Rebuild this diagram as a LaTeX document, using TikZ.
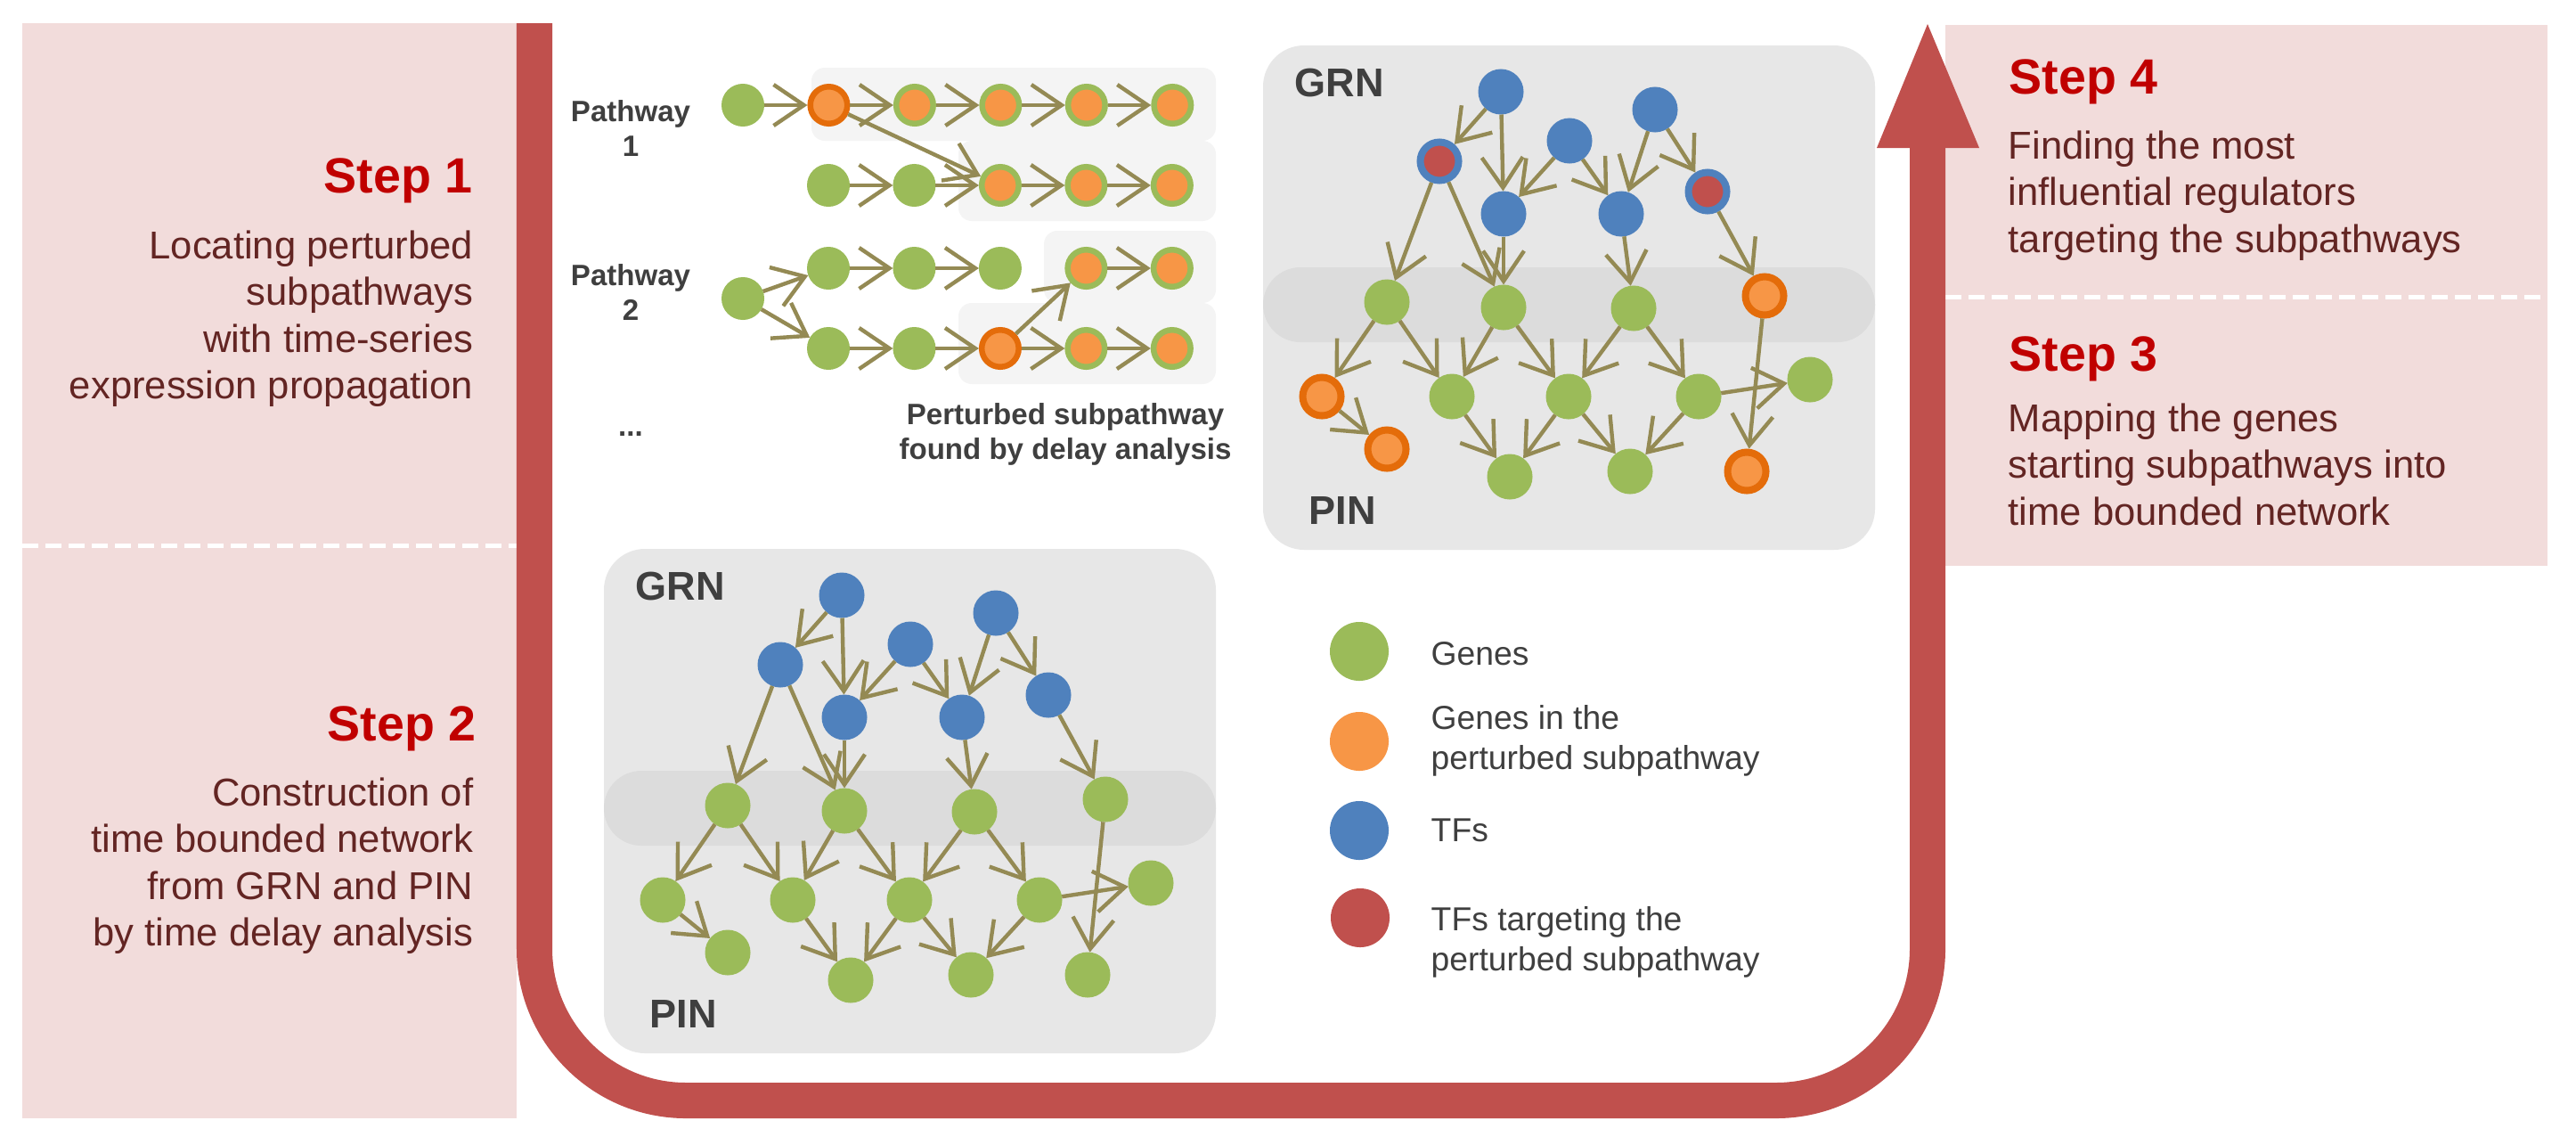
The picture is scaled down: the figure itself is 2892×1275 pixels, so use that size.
\documentclass[tikz,border=0pt]{standalone}
\usepackage{fontspec}
\setmainfont{Liberation Sans}
\usetikzlibrary{arrows.meta,positioning}

\definecolor{genegreen}{HTML}{9BBB59}
\definecolor{pertorange}{HTML}{F79646}
\definecolor{ringorange}{HTML}{E46C0A}
\definecolor{tfblue}{HTML}{4F81BD}
\definecolor{tfred}{HTML}{C0504D}
\definecolor{edgeolive}{HTML}{948A54}
\definecolor{netgray}{HTML}{E7E7E7}
\definecolor{bandgray}{HTML}{DCDCDC}
\definecolor{subgray}{HTML}{F4F4F4}
\definecolor{steppink}{HTML}{F2DCDB}
\definecolor{stepred}{HTML}{C00000}
\definecolor{steptext}{HTML}{632523}
\definecolor{darktext}{HTML}{3F3F3F}

\begin{document}
\begin{tikzpicture}[x=0.01cm,y=-0.01cm,->,>={Straight Barb[length=0.34cm,width=0.46cm]},
  every edge/.style={draw,edgeolive,line width=0.044cm},
  gene/.style={circle,fill=genegreen,inner sep=0,outer sep=0,minimum size=0.51cm},
  tf/.style={circle,fill=tfblue,inner sep=0,outer sep=0,minimum size=0.51cm},
  pgene/.style={circle,fill=pertorange,draw=ringorange,line width=0.08cm,inner sep=0,minimum size=0.43cm},
  tfhit/.style={circle,fill=tfred,draw=tfblue,line width=0.08cm,inner sep=0,minimum size=0.43cm},
  pw/.style={circle,fill=genegreen,inner sep=0,outer sep=0,minimum size=0.48cm},
  pwsub/.style={circle,fill=pertorange,draw=genegreen,line width=0.065cm,inner sep=0,minimum size=0.415cm},
  pwstart/.style={circle,fill=pertorange,draw=ringorange,line width=0.065cm,inner sep=0,minimum size=0.415cm},
  legdot/.style={circle,inner sep=0,outer sep=0,minimum size=0.66cm},
  steptitle/.style={font=\fontsize{15.8}{19}\selectfont\bfseries,text=stepred,inner sep=0},
  stepbody/.style={font=\fontsize{12.4}{14.9}\selectfont,text=steptext,inner sep=0},
  netlabel/.style={font=\fontsize{12.8}{15}\selectfont\bfseries,text=darktext,inner sep=0},
  pwlabel/.style={font=\fontsize{9.4}{11.1}\selectfont\bfseries,text=darktext,inner sep=0,align=center},
  legtext/.style={font=\fontsize{10.6}{12.6}\selectfont,text=darktext,inner sep=0,align=left},
  node distance=0.964cm]

\useasboundingbox (0,0) rectangle (2892,1275);
\fill[white] (0,0) rectangle (2892,1275);

% step panels
\fill[steppink] (25,26) rectangle (580,1255);
\fill[steppink] (2184,28) rectangle (2860,635);
\draw[-,white,line width=0.05cm,dash pattern=on 0.18cm off 0.08cm] (25,612) -- (580,612);
\draw[-,white,line width=0.05cm,dash pattern=on 0.18cm off 0.08cm] (2184,333) -- (2860,333);

\node[steptitle,anchor=base east] (step1) at (531,216) {Step 1};
\node[stepbody,anchor=north east,align=right] (step1txt) at (532,258) {Locating perturbed\\subpathways\\with time-series\\expression propagation};
\node[steptitle,anchor=base east] (step2) at (535,831) {Step 2};
\node[stepbody,anchor=north east,align=right] (step2txt) at (532,872) {Construction of\\time bounded network\\from GRN and PIN\\by time delay analysis};
\node[steptitle,anchor=base west] (step4) at (2255,105) {Step 4};
\node[stepbody,anchor=north west,align=left] (step4txt) at (2254,146) {Finding the most\\influential regulators\\targeting the subpathways};
\node[steptitle,anchor=base west] (step3) at (2255,416) {Step 3};
\node[stepbody,anchor=north west,align=left] (step3txt) at (2254,452) {Mapping the genes\\starting subpathways into\\time bounded network};

% big arrow
\draw[-,tfred,line width=0.4cm,rounded corners=1.7cm] (600,26) -- (600,1235) -- (2164,1235) -- (2164,160);
\fill[tfred] (2107,166) -- (2222,166) -- (2164,27) -- cycle;

% pathways
\fill[subgray,rounded corners=0.15cm] (911,76) rectangle (1365,158);
\fill[subgray,rounded corners=0.15cm] (1076,158) rectangle (1365,248);
\fill[subgray,rounded corners=0.15cm] (1172,259) rectangle (1365,340);
\fill[subgray,rounded corners=0.15cm] (1076,340) rectangle (1365,431);

\node[pwlabel,anchor=north] (pw1) at (708,112) {Pathway\\1};
\node[pwlabel,anchor=north] (pw2) at (708,296) {Pathway\\2};
\node[pwlabel,anchor=base] (pwdots) at (708,489) {...};
\node[pwlabel,anchor=north] (found) at (1196,452) {Perturbed subpathway\\found by delay analysis};

\node[pw] (a1) at (834,118) {};
\node[pwstart] (a2) [right of=a1] {};
\node[pwsub] (a3) [right of=a2] {};
\node[pwsub] (a4) [right of=a3] {};
\node[pwsub] (a5) [right of=a4] {};
\node[pwsub] (a6) [right of=a5] {};
\node[pw] (b1) at (930,208) {};
\node[pw] (b2) [right of=b1] {};
\node[pwsub] (b3) [right of=b2] {};
\node[pwsub] (b4) [right of=b3] {};
\node[pwsub] (b5) [right of=b4] {};
\node[pw] (s) at (834,335) {};
\node[pw] (c1) at (930,301) {};
\node[pw] (c2) [right of=c1] {};
\node[pw] (c3) [right of=c2] {};
\node[pwsub] (c4) [right of=c3] {};
\node[pwsub] (c5) [right of=c4] {};
\node[pw] (d1) at (930,391) {};
\node[pw] (d2) [right of=d1] {};
\node[pwstart] (d3) [right of=d2] {};
\node[pwsub] (d4) [right of=d3] {};
\node[pwsub] (d5) [right of=d4] {};

\path (a1) edge (a2);
\path (a2) edge (a3) edge (b3);
\path (a3) edge (a4);
\path (a4) edge (a5);
\path (a5) edge (a6);
\path (b1) edge (b2);
\path (b2) edge (b3);
\path (b3) edge (b4);
\path (b4) edge (b5);
\path (s) edge (c1) edge (d1);
\path (c1) edge (c2);
\path (c2) edge (c3);
\path (c4) edge (c5);
\path (d1) edge (d2);
\path (d2) edge (d3);
\path (d3) edge (d4) edge (c4);
\path (d4) edge (d5);

% time bounded network with targets
\fill[netgray,rounded corners=0.46cm] (1418,51) rectangle (2105,617);
\fill[bandgray,rounded corners=0.42cm] (1418,300) rectangle (2105,384);
\node[netlabel,anchor=base west] (tgrn) at (1453,108) {GRN};
\node[netlabel,anchor=base west] (tpin) at (1469,588) {PIN};

\node[tf] (t1) at (1685,103) {};
\node[tfhit] (t2) at (1616,181) {};
\node[tf] (t3) at (1762,158) {};
\node[tf] (t4) at (1858,123) {};
\node[tf] (t5) at (1688,240) {};
\node[tf] (t6) at (1820,240) {};
\node[tfhit] (t7) at (1917,215) {};
\node[gene] (g1) at (1557,339) {};
\node[gene] (g2) at (1688,345) {};
\node[gene] (g3) at (1834,346) {};
\node[pgene] (g4) at (1981,332) {};
\node[pgene] (g5) at (1484,445) {};
\node[pgene] (g6) at (1557,504) {};
\node[gene] (g7) at (1630,445) {};
\node[gene] (g8) at (1761,445) {};
\node[gene] (g9) at (1907,445) {};
\node[gene] (g10) at (2032,426) {};
\node[gene] (g11) at (1695,535) {};
\node[gene] (g12) at (1830,529) {};
\node[pgene] (g13) at (1961,529) {};

\path (t1) edge (t2) edge (t5);
\path (t3) edge (t5) edge (t6);
\path (t4) edge (t6) edge (t7);
\path (t2) edge (g1) edge (g2);
\path (t5) edge (g2);
\path (t6) edge (g3);
\path (t7) edge (g4);
\path (g1) edge (g5) edge (g7);
\path (g2) edge (g7) edge (g8);
\path (g3) edge (g8) edge (g9);
\path (g4) edge (g13);
\path (g5) edge (g6);
\path (g9) edge (g10) edge (g12);
\path (g7) edge (g11);
\path (g8) edge (g11) edge (g12);

% time bounded network
\begin{scope}[shift={(-740,565)}]
\fill[netgray,rounded corners=0.46cm] (1418,51) rectangle (2105,617);
\fill[bandgray,rounded corners=0.42cm] (1418,300) rectangle (2105,384);
\node[netlabel,anchor=base west] (bgrn) at (1453,108) {GRN};
\node[netlabel,anchor=base west] (bpin) at (1469,588) {PIN};

\node[tf] (u1) at (1685,103) {};
\node[tf] (u2) at (1616,181) {};
\node[tf] (u3) at (1762,158) {};
\node[tf] (u4) at (1858,123) {};
\node[tf] (u5) at (1688,240) {};
\node[tf] (u6) at (1820,240) {};
\node[tf] (u7) at (1917,215) {};
\node[gene] (h1) at (1557,339) {};
\node[gene] (h2) at (1688,345) {};
\node[gene] (h3) at (1834,346) {};
\node[gene] (h4) at (1981,332) {};
\node[gene] (h5) at (1484,445) {};
\node[gene] (h6) at (1557,504) {};
\node[gene] (h7) at (1630,445) {};
\node[gene] (h8) at (1761,445) {};
\node[gene] (h9) at (1907,445) {};
\node[gene] (h10) at (2032,426) {};
\node[gene] (h11) at (1695,535) {};
\node[gene] (h12) at (1830,529) {};
\node[gene] (h13) at (1961,529) {};

\path (u1) edge (u2) edge (u5);
\path (u3) edge (u5) edge (u6);
\path (u4) edge (u6) edge (u7);
\path (u2) edge (h1) edge (h2);
\path (u5) edge (h2);
\path (u6) edge (h3);
\path (u7) edge (h4);
\path (h1) edge (h5) edge (h7);
\path (h2) edge (h7) edge (h8);
\path (h3) edge (h8) edge (h9);
\path (h4) edge (h13);
\path (h5) edge (h6);
\path (h9) edge (h10) edge (h12);
\path (h7) edge (h11);
\path (h8) edge (h11) edge (h12);
\end{scope}

% legend
\node[legdot,fill=genegreen] (lgene) at (1526,731) {};
\node[legdot,fill=pertorange] (lpert) at (1526,832) {};
\node[legdot,fill=tfblue] (ltf) at (1526,932) {};
\node[legdot,fill=tfred] (ltfhit) at (1527,1030) {};
\node[legtext,anchor=base west] (lgenetxt) at (1606,746) {Genes};
\node[legtext,anchor=north west] (lperttxt) at (1606,791) {Genes in the\\perturbed subpathway};
\node[legtext,anchor=base west] (ltftxt) at (1606,944) {TFs};
\node[legtext,anchor=north west] (ltfhittxt) at (1606,1017) {TFs targeting the\\perturbed subpathway};

\end{tikzpicture}
\end{document}
